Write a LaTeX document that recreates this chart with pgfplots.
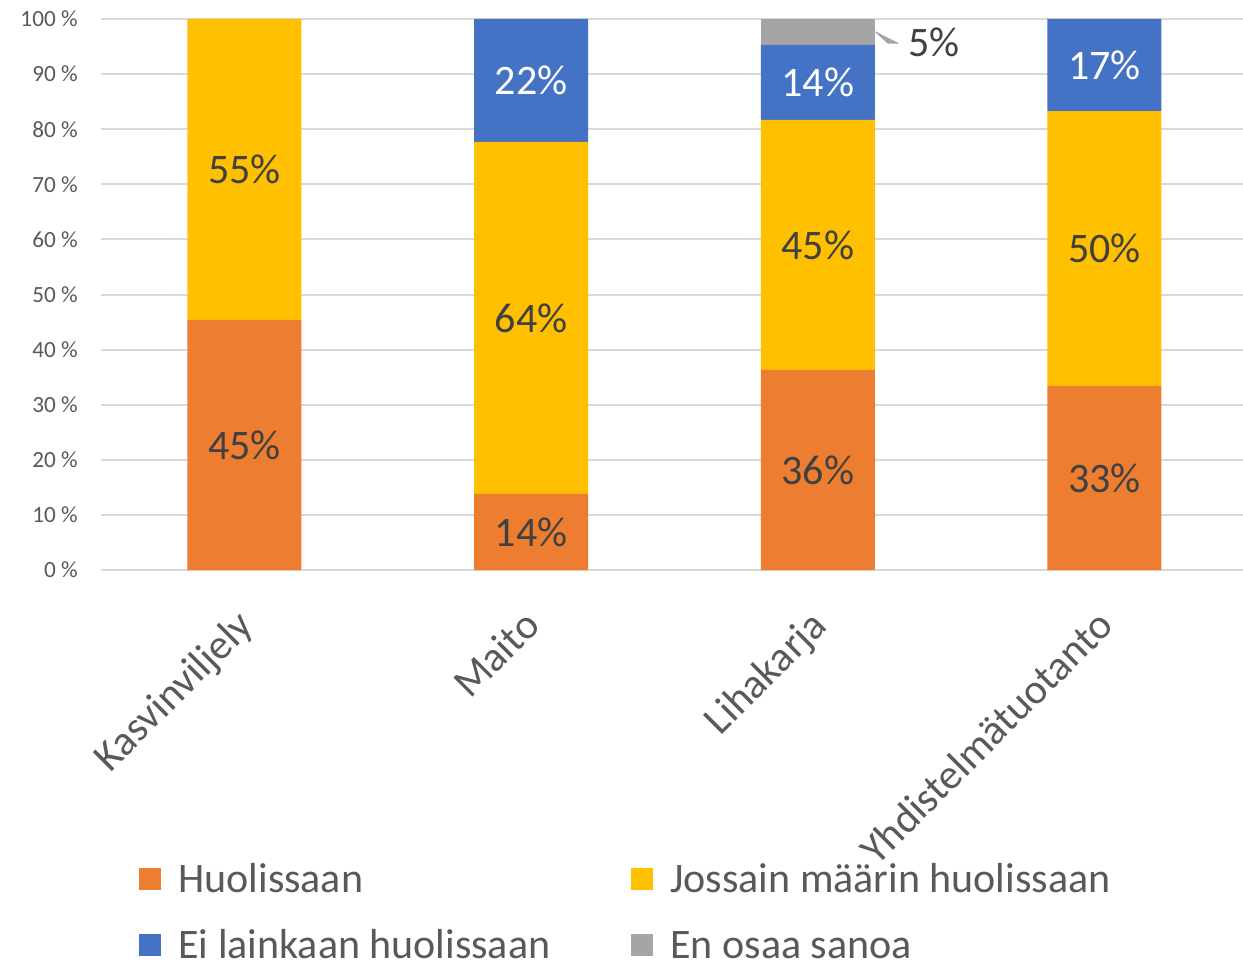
\documentclass[border=0pt]{standalone}
\usepackage{pgfplots}
\pgfplotsset{compat=1.18}
\usepackage{pgfplotstable}
\usepackage{fontspec}
\setmainfont{Carlito}

\definecolor{cOrange}{HTML}{ED7D31}
\definecolor{cYellow}{HTML}{FFC000}
\definecolor{cBlue}{HTML}{4472C4}
\definecolor{cGrey}{HTML}{A5A5A5}
\definecolor{cText}{HTML}{404040}
\definecolor{cTick}{HTML}{595959}
\definecolor{cGrid}{HTML}{D9D9D9}

% shares in percent, categories at 0..3
\pgfplotstableread{
x y
0 45.4
1 13.8
2 36.3
3 33.4
}\huolissaan
\pgfplotstableread{
x y
0 54.6
1 63.9
2 45.4
3 49.9
}\jossain
\pgfplotstableread{
x y
0 0
1 22.3
2 13.6
3 16.7
}\eilainkaan
\pgfplotstableread{
x y
0 0
1 0
2 4.7
3 0
}\enosaa

\begin{document}
\begin{tikzpicture}
\useasboundingbox (-50.5pt,-196.5pt) rectangle (571pt,285pt);
\begin{axis}[
  at={(0,0)}, anchor=south west,
  scale only axis, width=571.25pt, height=275.5pt,
  ybar stacked, bar width=57pt,
  xmin=-0.5, xmax=3.485, ymin=0, ymax=100,
  xtick={0,1,2,3},
  xticklabels={Kasvinviljely,Maito,Lihakarja,Yhdistelmätuotanto},
  ytick={0,10,...,100},
  yticklabel={\pgfmathprintnumber{\tick}~\%},
  /pgf/number format/assume math mode=true,
  ymajorgrids, grid style={cGrid, line width=1pt},
  axis line style={draw=none},
  major tick length=0pt,
  yticklabel style={font=\fontsize{11.6}{13}\selectfont, text=cTick,
    anchor=east, inner sep=0pt, xshift=-11.5pt},
  xticklabel style={font=\fontsize{21}{24}\selectfont, text=cTick,
    xshift=-4.8pt, yshift=-18.5pt, rotate=45, anchor=north east, inner sep=0pt},
  point meta=explicit,
  nodes near coords={\pgfmathfloatifflags{\pgfplotspointmeta}{0}{}{\pgfmathprintnumber[fixed,precision=0]{\pgfplotspointmeta}\%}},
  every node near coord/.append style={font=\fontsize{21}{24}\selectfont, text=cText,
    anchor=center},
  legend image code/.code={\fill[#1] (0pt,-5.5pt) rectangle (11pt,5.5pt);},
  legend columns=2,
  legend cell align=left,
  legend style={draw=none, fill=none, inner sep=0pt,
    at={(0.0333,-0.5354)}, anchor=north west,
    font=\fontsize{21}{24}\selectfont, text=cTick,
    nodes={inner sep=0pt, text height=13.5pt, text depth=0pt},
    row sep=19.5pt,
    /tikz/every odd column/.append style={column sep=8.5pt},
    /tikz/every even column/.append style={column sep=40.5pt}},
]
\addplot[fill=cOrange, draw=none] table[x=x, y=y, meta=y] {\huolissaan};
\addlegendentry{Huolissaan}
\addplot[fill=cYellow, draw=none] table[x=x, y=y, meta=y] {\jossain};
\addlegendentry{Jossain määrin huolissaan}
\addplot[fill=cBlue, draw=none,
  every node near coord/.append style={text=white}] table[x=x, y=y, meta=y] {\eilainkaan};
\addlegendentry{Ei lainkaan huolissaan}
\addplot[fill=cGrey, draw=none,
  nodes near coords={\pgfmathfloatifflags{\pgfplotspointmeta}{0}{}{\tikz[overlay,baseline=0pt]\draw[cGrey, line width=0.8pt] (-5pt,7pt) -- (-10pt,7pt) -- (-16pt,12.5pt);\pgfmathprintnumber[fixed,precision=0]{\pgfplotspointmeta}\%}},
  every node near coord/.append style={text=cText, anchor=base west, inner sep=0pt, xshift=45pt, yshift=-12.5pt}]
  table[x=x, y=y, meta=y] {\enosaa};
\addlegendentry{En osaa sanoa}
\end{axis}
\end{tikzpicture}
\end{document}
